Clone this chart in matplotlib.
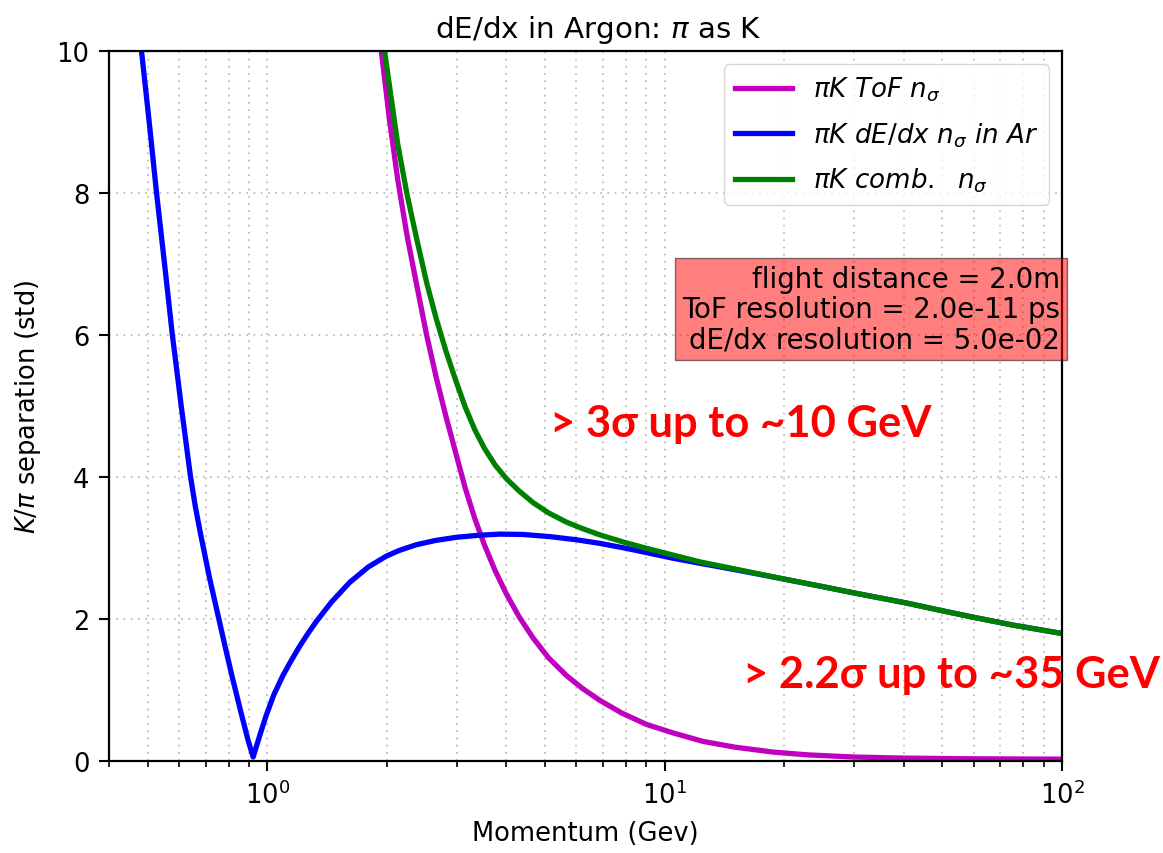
import matplotlib
matplotlib.use("Agg")
import matplotlib.pyplot as plt
from matplotlib import font_manager

# values (momentum in GeV, separation in std)
tof_p = [1.85, 1.938, 2.03, 2.13, 2.25, 2.38, 2.52, 2.665, 2.82, 2.98, 3.15, 3.33,
         3.52, 3.75, 3.997, 4.3, 4.664, 5.1, 5.658, 6.2, 6.864, 7.8, 9.0, 10.5,
         12.5, 15, 18.74, 23, 30, 40, 60, 100]
tof_sep = [10.9, 10.0, 9.05, 8.2, 7.4, 6.7, 6.0, 5.4, 4.85, 4.35, 3.85, 3.42,
           3.05, 2.68, 2.36, 2.04, 1.74, 1.46, 1.21, 1.03, 0.86, 0.68, 0.52, 0.40,
           0.28, 0.20, 0.13, 0.09, 0.06, 0.045, 0.035, 0.03]

dedx_p = [0.462, 0.483, 0.505, 0.527, 0.552, 0.577, 0.608, 0.641, 0.66, 0.68, 0.717,
          0.752, 0.785, 0.819, 0.86, 0.895, 0.922, 0.96, 0.995, 1.04, 1.096,
          1.15, 1.207, 1.27, 1.33, 1.45, 1.613, 1.8, 1.995, 2.15, 2.373,
          2.65, 2.992, 3.4, 3.846, 4.4, 5.137, 6.0, 6.864, 8.0, 9.17,
          10.5, 12.25, 15, 19.84, 25, 30.06, 40.55, 50, 59.7, 75, 100]
dedx_sep = [11.0, 10.0, 9.0, 8.0, 7.0, 6.02, 5.0, 4.02, 3.58, 3.20, 2.57,
            2.06, 1.60, 1.16, 0.68, 0.30, 0.06, 0.38, 0.65, 0.94, 1.21,
            1.42, 1.62, 1.81, 1.97, 2.24, 2.52, 2.74, 2.89, 2.97, 3.05,
            3.11, 3.155, 3.183, 3.20, 3.195, 3.165, 3.12, 3.07, 3.00, 2.93,
            2.86, 2.79, 2.70, 2.57, 2.46, 2.37, 2.23, 2.12, 2.03, 1.92, 1.80]

comb_p = [1.90, 1.975, 2.13, 2.25, 2.38, 2.52, 2.665, 2.82, 2.98, 3.15, 3.33,
          3.52, 3.75, 4.0, 4.3, 4.664, 5.1, 5.658, 6.2, 6.864, 7.8, 9.0, 10.5,
          12.25, 15, 19.84, 25, 30.06, 40.55, 50, 59.7, 75, 100]
comb_sep = [10.9, 10.0, 8.70, 7.98, 7.35, 6.74, 6.23, 5.77, 5.37, 4.99, 4.67,
            4.41, 4.17, 3.98, 3.81, 3.645, 3.50, 3.37, 3.28, 3.19, 3.095, 3.00, 2.905,
            2.81, 2.71, 2.57, 2.46, 2.37, 2.23, 2.12, 2.03, 1.92, 1.80]

labels = [r"$\pi K\ ToF\ n_\sigma$", r"$\pi K\ dE/dx\ n_\sigma\ in\ Ar$",
          r"$\pi K\ comb.\ \ n_\sigma$"]
info = "flight distance = 2.0m\nToF resolution = 2.0e-11 ps\ndE/dx resolution = 5.0e-02"
note1 = "> 3σ up to ~10 GeV"
note2 = "> 2.2σ up to ~35 GeV"

names = {f.name for f in font_manager.fontManager.ttflist}
red_font = "Liberation Sans Narrow" if "Liberation Sans Narrow" in names else "Lato"

fig = plt.figure(figsize=(11.63, 8.54), dpi=100)
ax = fig.add_axes([109 / 1163, 1 - 762.3 / 854, 953 / 1163, 710 / 854])

ax.plot(tof_p, tof_sep, color="m", lw=3.8, label=labels[0])
ax.plot(dedx_p, dedx_sep, color="b", lw=3.8, label=labels[1])
ax.plot(comb_p, comb_sep, color="g", lw=3.8, label=labels[2])

ax.set_xscale("log")
ax.set_xlim(0.4, 100)
ax.set_ylim(0, 10)
ax.grid(which="both", linestyle=(0, (1, 3)), color="#bdbdbd", lw=1.3)

for s in ax.spines.values():
    s.set_linewidth(1.6)
ax.tick_params(which="major", length=7, width=1.5, labelsize=18.5, pad=7)
ax.tick_params(which="minor", length=4, width=1.2)

ax.set_title(r"dE/dx in Argon: $\pi$ as K", fontsize=21.2, pad=10, x=0.513)
ax.set_xlabel("Momentum (Gev)", fontsize=18.5, labelpad=8)
ax.set_ylabel(r"$K/\pi$ separation (std)", fontsize=18.5, labelpad=10)

ax.legend(loc="upper right", fontsize=18.8, handlelength=2.2, labelspacing=0.65)

ax.text(0.998, 0.637, info, transform=ax.transAxes, ha="right", va="center",
        multialignment="right", fontsize=19.9, linespacing=1.1,
        bbox=dict(boxstyle="square,pad=0.25", facecolor="red", alpha=0.5))

fig.text(550 / 1163, 1 - 437 / 854, note1, color="red", fontsize=31.3,
         fontweight="bold", family=red_font, va="baseline")
fig.text(743 / 1163, 1 - 688 / 854, note2, color="red", fontsize=31.3,
         fontweight="bold", family=red_font, va="baseline")

fig.savefig("out.png", dpi=100)
